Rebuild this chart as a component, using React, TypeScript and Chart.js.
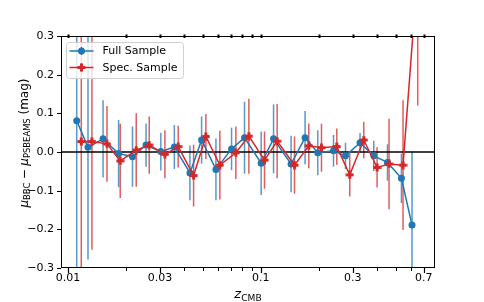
import React, { useEffect, useRef } from 'react';
import { Chart, registerables } from 'chart.js';

Chart.register(...registerables);

const FONT = "'DejaVu Sans', sans-serif";
const BLUE = '#1f77b4';
const RED = '#d62728';
const BLUE_ERR = 'rgba(31,119,180,0.75)';
const RED_ERR = 'rgba(214,39,40,0.75)';

// Full sample
const zFull = [0.0111, 0.0127, 0.0152, 0.0183, 0.0216, 0.0254, 0.0303, 0.0356, 0.0429, 0.0493, 0.0585, 0.0705, 0.0823, 0.1004, 0.1164, 0.1435, 0.1696, 0.1974, 0.2381, 0.2748, 0.3269, 0.3851, 0.4535, 0.5358, 0.6081];
const muFull = [0.081, 0.012, 0.034, -0.004, -0.012, 0.018, 0.001, 0.013, -0.054, 0.031, -0.045, 0.008, 0.037, -0.029, 0.034, -0.031, 0.037, -0.002, 0.003, -0.010, 0.024, -0.010, -0.027, -0.068, -0.189];
const errFull = [0.45, 0.29, 0.10, 0.087, 0.078, 0.056, 0.049, 0.057, 0.071, 0.061, 0.080, 0.055, 0.093, 0.082, 0.089, 0.073, 0.069, 0.058, 0.041, 0.034, 0.025, 0.039, 0.047, 0.064, 0.19];

// Spectroscopic sample
const zSpec = [0.01172, 0.01331, 0.01593, 0.01866, 0.02259, 0.02638, 0.03181, 0.03728, 0.0448, 0.05188, 0.06131, 0.07422, 0.08667, 0.1045, 0.1215, 0.1495, 0.1773, 0.2063, 0.2476, 0.2891, 0.3418, 0.4006, 0.4622, 0.5462, 0.651];
const muSpec = [0.027, 0.027, 0.021, -0.023, 0.005, 0.018, -0.006, 0.014, -0.061, 0.040, -0.034, -0.002, 0.041, -0.021, 0.028, -0.034, 0.016, 0.011, 0.014, -0.059, 0.031, -0.040, -0.031, -0.034, 0.47];
const errSpec = [0.45, 0.28, 0.098, 0.096, 0.095, 0.074, 0.062, 0.054, 0.08, 0.058, 0.089, 0.068, 0.097, 0.074, 0.096, 0.074, 0.058, 0.062, 0.047, 0.056, 0.047, 0.052, 0.117, 0.168, 0.35];

// Axes
const xMajorTicks = [0.01, 0.03, 0.1, 0.3, 0.7];
const xMajorLabels = ['0.01', '0.03', '0.1', '0.3', '0.7'];
const xMinorTicks = [0.02, 0.04, 0.05, 0.06, 0.07, 0.08, 0.09, 0.2, 0.4, 0.5, 0.6];
const yTicks = [-0.3, -0.2, -0.1, 0.0, 0.1, 0.2, 0.3];
const xMin = 0.0092;
const xMax = 0.8;
const yMin = -0.3;
const yMax = 0.3;

const legendLabels = ['Full Sample', 'Spec. Sample'];
const legendColors = [BLUE, RED];

const allXTicks = [...xMajorTicks, ...xMinorTicks].sort((a, b) => a - b);
const isMajor = (v: number) => xMajorTicks.some((m) => Math.abs(m - v) / m < 1e-6);
const majorLabel = (v: number) => {
  const i = xMajorTicks.findIndex((m) => Math.abs(m - v) / m < 1e-6);
  return i >= 0 ? xMajorLabels[i] : '';
};

function drawPlus(ctx: CanvasRenderingContext2D, x: number, y: number, r: number, w: number, color: string) {
  ctx.fillStyle = color;
  ctx.fillRect(x - r, y - w / 2, 2 * r, w);
  ctx.fillRect(x - w / 2, y - r, w, 2 * r);
}

function makePlusMarker(color: string) {
  const c = document.createElement('canvas');
  c.width = 9;
  c.height = 9;
  const g = c.getContext('2d')!;
  drawPlus(g, 4.5, 4.5, 4, 3, color);
  return c;
}

const errorPlugin = {
  id: 'errbars',
  beforeDatasetsDraw(chart: any) {
    const { ctx, chartArea: a, scales } = chart;
    const x = scales.x;
    const y = scales.y;
    ctx.save();
    ctx.beginPath();
    ctx.rect(a.left, a.top, a.right - a.left, a.bottom - a.top);
    ctx.clip();
    const sets = [
      { z: zFull, m: muFull, e: errFull, c: BLUE_ERR },
      { z: zSpec, m: muSpec, e: errSpec, c: RED_ERR },
    ];
    ctx.lineWidth = 1.5;
    for (const s of sets) {
      ctx.strokeStyle = s.c;
      for (let i = 0; i < s.z.length; i++) {
        const px = x.getPixelForValue(s.z[i]);
        ctx.beginPath();
        ctx.moveTo(px, y.getPixelForValue(s.m[i] - s.e[i]));
        ctx.lineTo(px, y.getPixelForValue(s.m[i] + s.e[i]));
        ctx.stroke();
      }
    }
    // zero line
    ctx.strokeStyle = '#000';
    ctx.lineWidth = 1.5;
    const y0 = y.getPixelForValue(0);
    ctx.beginPath();
    ctx.moveTo(a.left, y0);
    ctx.lineTo(a.right, y0);
    ctx.stroke();
    ctx.restore();
  },
};

const framePlugin = {
  id: 'frame',
  afterDraw(chart: any) {
    const { ctx, chartArea: a, scales } = chart;
    const x = scales.x;
    const y = scales.y;
    ctx.save();
    ctx.strokeStyle = '#000';
    ctx.lineWidth = 1;
    ctx.strokeRect(a.left + 0.5, a.top + 0.5, a.right - a.left - 1, a.bottom - a.top - 1);
    // y ticks
    for (const v of yTicks) {
      const py = Math.round(y.getPixelForValue(v)) + 0.5;
      ctx.beginPath();
      ctx.moveTo(a.left - 4, py);
      ctx.lineTo(a.left, py);
      ctx.stroke();
    }
    // x ticks bottom + top
    for (const v of allXTicks) {
      const px = Math.round(x.getPixelForValue(v)) + 0.5;
      const major = isMajor(v);
      ctx.lineWidth = major ? 1.2 : 1;
      ctx.beginPath();
      ctx.moveTo(px, a.bottom);
      ctx.lineTo(px, a.bottom + (major ? 5 : 3));
      ctx.stroke();
      ctx.lineWidth = 2;
      ctx.beginPath();
      ctx.moveTo(px, a.top - 1.5);
      ctx.lineTo(px, a.top + 2);
      ctx.stroke();
    }
    ctx.restore();
  },
};

type Seg = { t: string; size: number; italic?: boolean; dy?: number; padL?: number; padR?: number };

function drawSegments(ctx: CanvasRenderingContext2D, segs: Seg[], startX: number, baseY: number) {
  let cx = startX;
  for (const s of segs) {
    ctx.font = `${s.italic ? 'italic ' : ''}${s.size}px ${FONT}`;
    cx += s.padL || 0;
    ctx.fillText(s.t, cx, baseY + (s.dy || 0));
    cx += ctx.measureText(s.t).width + (s.padR || 0);
  }
}
function measureSegments(ctx: CanvasRenderingContext2D, segs: Seg[]) {
  let w = 0;
  for (const s of segs) {
    ctx.font = `${s.italic ? 'italic ' : ''}${s.size}px ${FONT}`;
    w += ctx.measureText(s.t).width + (s.padL || 0) + (s.padR || 0);
  }
  return w;
}

const labelPlugin = {
  id: 'labels',
  afterDraw(chart: any) {
    const { ctx, chartArea: a } = chart;
    ctx.save();
    ctx.fillStyle = '#000';
    ctx.textAlign = 'left';
    ctx.textBaseline = 'alphabetic';
    // x label
    const xs: Seg[] = [
      { t: 'z', size: 13, italic: true },
      { t: 'CMB', size: 9.1, dy: 2.5 },
    ];
    const xw = measureSegments(ctx, xs);
    drawSegments(ctx, xs, (a.left + a.right) / 2 - xw / 2, 298);
    // y label
    const ys: Seg[] = [
      { t: 'μ', size: 12, italic: true },
      { t: 'BBC', size: 8.4, dy: 2.3 },
      { t: '\u2212', size: 12, padL: 3.5, padR: 3.5 },
      { t: 'μ', size: 12, italic: true },
      { t: 'PSBEAMS', size: 8.4, dy: 2.3 },
      { t: ' (mag)', size: 12 },
    ];
    const yw = measureSegments(ctx, ys);
    ctx.translate(28, (a.top + a.bottom) / 2 - 9);
    ctx.rotate(-Math.PI / 2);
    drawSegments(ctx, ys, -yw / 2, 0);
    ctx.restore();

    // legend
    ctx.save();
    const lx = a.left + 5.5;
    const ly = a.top + 6.5;
    const lw = 117;
    const lh = 36;
    ctx.beginPath();
    (ctx as any).roundRect(lx, ly, lw, lh, 3);
    ctx.fillStyle = 'rgba(255,255,255,0.8)';
    ctx.fill();
    ctx.strokeStyle = '#d0d0d0';
    ctx.lineWidth = 1;
    ctx.stroke();
    ctx.font = `11px ${FONT}`;
    ctx.textBaseline = 'middle';
    for (let i = 0; i < legendLabels.length; i++) {
      const cy = ly + 8.5 + i * 16.5;
      const c = legendColors[i];
      ctx.strokeStyle = c;
      ctx.lineWidth = 1.5;
      ctx.beginPath();
      ctx.moveTo(lx + 3, cy);
      ctx.lineTo(lx + 27, cy);
      ctx.stroke();
      ctx.beginPath();
      ctx.moveTo(lx + 15, cy - 4);
      ctx.lineTo(lx + 15, cy + 4);
      ctx.stroke();
      if (i === 0) {
        ctx.fillStyle = c;
        ctx.beginPath();
        ctx.arc(lx + 15, cy, 3.5, 0, Math.PI * 2);
        ctx.fill();
      } else {
        drawPlus(ctx, lx + 15, cy, 4, 3, c);
      }
      ctx.fillStyle = '#000';
      ctx.fillText(legendLabels[i], lx + 36, cy + 0.5);
    }
    ctx.restore();
  },
};

export default function App() {
  const ref = useRef<HTMLCanvasElement>(null);
  useEffect(() => {
    if (!ref.current) return;
    const plusMarker = makePlusMarker(RED);
    const chart = new Chart(ref.current, {
      type: 'line',
      data: {
        datasets: [
          {
            label: legendLabels[0],
            data: zFull.map((z, i) => ({ x: z, y: muFull[i] })),
            borderColor: BLUE,
            backgroundColor: BLUE,
            borderWidth: 1.5,
            pointRadius: 3.5,
            pointStyle: 'circle',
            pointBorderWidth: 0,
            pointBackgroundColor: BLUE,
            order: 1,
          },
          {
            label: legendLabels[1],
            data: zSpec.map((z, i) => ({ x: z, y: muSpec[i] })),
            borderColor: RED,
            backgroundColor: RED,
            borderWidth: 1.5,
            pointRadius: 4,
            pointStyle: plusMarker,
            order: 0,
          },
        ],
      } as any,
      options: {
        animation: false,
        responsive: true,
        maintainAspectRatio: false,
        layout: { padding: { top: 36, right: 49, left: 0, bottom: 0 } },
        plugins: { legend: { display: false }, tooltip: { enabled: false } },
        scales: {
          x: {
            type: 'logarithmic',
            min: xMin,
            max: xMax,
            afterBuildTicks: (s: any) => {
              s.ticks = allXTicks.map((v) => ({ value: v, major: isMajor(v) }));
            },
            afterFit: (s: any) => {
              s.height = 34;
            },
            ticks: {
              autoSkip: false,
              maxRotation: 0,
              minRotation: 0,
              color: '#000',
              padding: -1,
              font: { family: FONT, size: 11 },
              callback: (v: any) => majorLabel(Number(v)),
            },
            grid: { display: true, drawOnChartArea: false, drawTicks: true, tickLength: 5, color: 'rgba(0,0,0,0)' },
            border: { display: false },
          },
          y: {
            type: 'linear',
            min: yMin,
            max: yMax,
            afterBuildTicks: (s: any) => {
              s.ticks = yTicks.map((v) => ({ value: v }));
            },
            afterFit: (s: any) => {
              s.width = 61;
            },
            ticks: {
              color: '#000',
              padding: 3,
              font: { family: FONT, size: 11 },
              callback: (v: any) => {
                const n = Number(v);
                const s = (Math.abs(n) < 1e-9 ? 0 : n).toFixed(1);
                return s.replace('-', '\u2212');
              },
            },
            grid: { display: true, drawOnChartArea: false, drawTicks: true, tickLength: 4, color: 'rgba(0,0,0,0)' },
            border: { display: false },
          },
        },
      } as any,
      plugins: [errorPlugin, framePlugin, labelPlugin],
    });
    return () => chart.destroy();
  }, []);
  return (
    <div style={{ position: 'fixed', left: 0, top: 0, width: 484, height: 302, background: '#fff' }}>
      <canvas ref={ref} />
    </div>
  );
}
